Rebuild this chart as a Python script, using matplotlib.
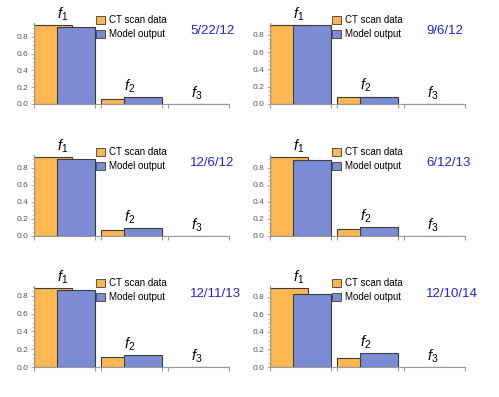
import matplotlib
matplotlib.use("Agg")
import matplotlib.pyplot as plt
from matplotlib.patches import Patch
from matplotlib.ticker import MultipleLocator

plt.rcParams['font.family'] = ['Liberation Sans', 'DejaVu Sans']
plt.rcParams['mathtext.fontset'] = 'custom'
plt.rcParams['mathtext.it'] = 'Liberation Sans:italic'
plt.rcParams['mathtext.rm'] = 'Liberation Sans'

# scan dates, one panel each
dates = ['5/22/12', '9/6/12', '12/6/12', '6/12/13', '12/11/13', '12/10/14']
fractions = ['$f_1$', '$f_2$', '$f_3$']

# volume fractions f1, f2, f3
ct_data = [
    [0.935, 0.058, 0.004],
    [0.910, 0.086, 0.004],
    [0.925, 0.068, 0.004],
    [0.920, 0.080, 0.004],
    [0.885, 0.110, 0.004],
    [0.895, 0.097, 0.004],
]
model_out = [
    [0.912, 0.080, 0.004],
    [0.910, 0.086, 0.004],
    [0.905, 0.090, 0.004],
    [0.893, 0.105, 0.004],
    [0.868, 0.130, 0.004],
    [0.834, 0.162, 0.004],
]

orange = '#fbb752'
blue = '#7b8cd4'
edge = '#3c3c3c'

W, H = 499, 397
fig = plt.figure(figsize=(W / 100, H / 100), dpi=100)

col_x = [34, 270]
row_y = [104, 236, 367]
ax_w, ax_h = 195, 81

group_start = [0, 1.1, 2.2]

for k in range(6):
    r, c = divmod(k, 2)
    left = col_x[c] / W
    bottom = (H - row_y[r]) / H
    ax = fig.add_axes([left, bottom, ax_w / W, ax_h / H])

    ct = ct_data[k]
    mo = model_out[k]
    ax.bar(group_start, ct, width=0.62, align='edge', color=orange,
           edgecolor=edge, linewidth=0.8, zorder=2)
    ax.bar([g + 0.38 for g in group_start], mo, width=0.62, align='edge',
           color=blue, edgecolor=edge, linewidth=0.8, zorder=3)

    # labels f1, f2, f3 above each group
    for i in range(3):
        top = max(ct[i], mo[i])
        ax.annotate(fractions[i], (group_start[i] + 0.47, top),
                    xytext=(0, 1.5), textcoords='offset points',
                    ha='center', va='bottom', fontsize=10.5, zorder=5)

    ymax = max(ct + mo) * 1.03
    ax.set_xlim(0, 3.2)
    ax.set_ylim(0, ymax)

    for s in ['top', 'right']:
        ax.spines[s].set_visible(False)
    for s in ['left', 'bottom']:
        ax.spines[s].set_color('#9a9a9a')
        ax.spines[s].set_linewidth(0.8)

    ax.set_xticks([0, 1.0, 1.1, 2.1, 2.2, 3.2])
    ax.set_xticklabels([])
    ax.tick_params(axis='x', direction='out', length=3, width=0.8,
                   color='#9a9a9a')
    ax.yaxis.set_major_locator(MultipleLocator(0.2))
    ax.yaxis.set_minor_locator(MultipleLocator(0.05))
    ax.set_yticks([0, 0.2, 0.4, 0.6, 0.8])
    ax.set_yticklabels(['0.0', '0.2', '0.4', '0.6', '0.8'])
    ax.tick_params(axis='y', which='major', direction='out', length=2.5,
                   width=0.6, color='#9a9a9a', labelsize=6,
                   labelcolor='#555555', pad=1.5)
    ax.tick_params(axis='y', which='minor', direction='out', length=1.2,
                   width=0.5, color='#b0b0b0')

    handles = [Patch(facecolor=orange, edgecolor=edge, linewidth=0.6),
               Patch(facecolor=blue, edgecolor=edge, linewidth=0.6)]
    ax.legend(handles, ['CT scan data', 'Model output'], loc='upper left',
              bbox_to_anchor=(0.32, 1.10), frameon=False, fontsize=7,
              handlelength=0.9, handleheight=0.9, handletextpad=0.4,
              labelspacing=0.45, borderpad=0, borderaxespad=0)

    ax.text(0.80, 0.90, dates[k], transform=ax.transAxes, color='#2424d6',
            fontsize=9.5, ha='left', va='center')

fig.savefig('out.png', dpi=100)
